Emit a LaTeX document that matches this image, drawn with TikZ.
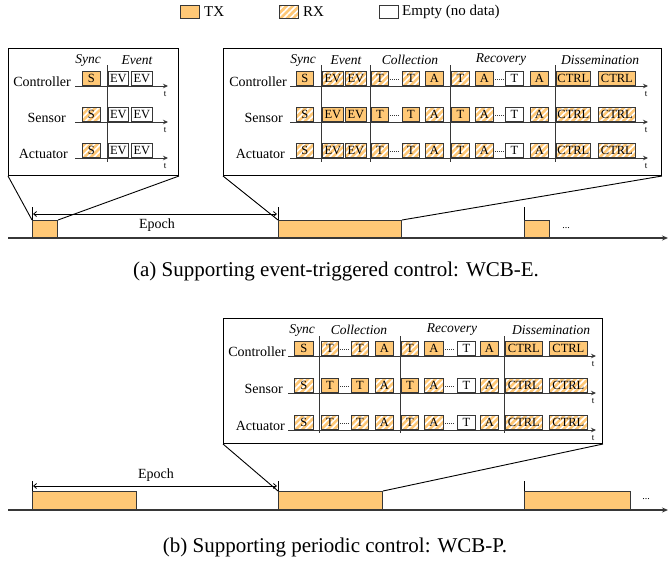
\documentclass[tikz,border=0pt]{standalone}
\usepackage{fontspec}
\setmainfont{Liberation Serif}
\usetikzlibrary{patterns.meta,arrows.meta}
\definecolor{txc}{RGB}{255,200,118}
\definecolor{bord}{RGB}{55,55,55}
\tikzset{
  slotbase/.style={draw=bord, line width=0.8pt, minimum height=14pt, inner sep=0pt,
    font=\fontsize{12.5}{13}\selectfont, anchor=south west},
  tx/.style={slotbase, fill=txc},
  rx/.style={slotbase, preaction={fill=txc},
    pattern={Lines[angle=45,distance=4.5pt,line width=1.6pt]}, pattern color=white},
  em/.style={slotbase, fill=white},
  panel/.style={draw=black, line width=1pt, anchor=north west, inner sep=0pt},
  rowlbl/.style={anchor=base east, inner sep=0pt, font=\fontsize{14}{14}\selectfont},
  phase/.style={inner sep=0pt, font=\fontsize{13.5}{14}\itshape},
  tlbl/.style={inner sep=0pt, font=\fontsize{9}{9}\selectfont},
  rowaxis/.style={draw=bord, line width=1pt, -{Stealth[length=5pt,width=4.5pt]}},
  divider/.style={draw=bord, line width=1pt},
  gapdots/.style={draw=bord, line width=0.7pt, dash pattern=on 0.8pt off 1.2pt},
  tlbox/.style={draw=bord, line width=1pt, fill=txc, anchor=south west, inner sep=0pt},
  tlaxis/.style={draw=bord, line width=1.2pt, -{Stealth[length=6pt,width=5pt]}},
  tickmark/.style={draw=black, line width=0.8pt},
  epocharr/.style={draw=black, line width=0.8pt, {Straight Barb[length=3pt,width=5pt]}-{Straight Barb[length=3pt,width=5pt]}},
  zoomline/.style={draw=black, line width=0.9pt},
  captxt/.style={inner sep=0pt, font=\fontsize{21}{22}\selectfont},
  lgtext/.style={anchor=west, inner sep=0pt, font=\fontsize{15}{15}\selectfont},
  lgbox/.style={draw=bord, line width=0.8pt, minimum width=19pt, minimum height=13pt, inner sep=0pt, anchor=north west},
}
\begin{document}
\begin{tikzpicture}[x=1pt,y=-1pt]
\useasboundingbox (0,0) rectangle (669,563);

% ---------------- legend
\node[lgbox, fill=txc] (lgtx) at (180,5) {};
\node[lgtext] (lgtxt) at (204,11.5) {TX};
\node[lgbox, preaction={fill=txc}, pattern={Lines[angle=45,distance=4.5pt,line width=1.6pt]}, pattern color=white] (lgrx) at (279,5) {};
\node[lgtext] (lgrxt) at (303,11.5) {RX};
\node[lgbox, fill=white] (lgem) at (379,5) {};
\node[lgtext] (lgemt) at (402,11.5) {Empty (no data)};

% ================= (a) small panel
\node[panel, minimum width=170pt, minimum height=127pt] (pa1) at (8,48) {};
\node[phase] (pa1sync) at (88,60) {Sync};
\node[phase] (pa1ev) at (137,60) {Event};
\foreach \y/\lbl/\lx/\ss [count=\r] in {86/Controller/71/tx, 122/Sensor/66/rx, 158/Actuator/68/rx}{
  \node[rowlbl] (pa1l\r) at (\lx,\y) {\lbl};
  \node[\ss, minimum width=18pt] (pa1s\r) at (82,\y) {S};
  \node[em, minimum width=20pt] (pa1e\r) at (108,\y) {EV};
  \node[em, minimum width=21pt] (pa1f\r) at (131,\y) {EV};
  \coordinate (pa1a\r) at (75,\y);
  \coordinate (pa1b\r) at (168,\y);
  \draw[rowaxis] (pa1a\r) -- (pa1b\r);
  \node[tlbl] (pa1t\r) at (165,\y+8) {t};
}
\coordinate (pa1d1) at (107,65); \coordinate (pa1d2) at (107,162);
\draw[divider] (pa1d1) -- (pa1d2);

% ================= (a) big panel
\node[panel, minimum width=438pt, minimum height=127pt] (pa2) at (223,48) {};
\node[phase] (pa2p1) at (303,60) {Sync};
\node[phase] (pa2p2) at (346,60) {Event};
\node[phase] (pa2p3) at (410,60) {Collection};
\node[phase] (pa2p4) at (501,60) {Recovery};
\node[phase] (pa2p5) at (600,60) {Dissemination};
\foreach \y/\lbl/\lx [count=\r] in {86/Controller/287, 122/Sensor/283, 158/Actuator/285}{
  \node[rowlbl] (pa2l\r) at (\lx,\y) {\lbl};
  \coordinate (pa2a\r) at (290,\y);
  \coordinate (pa2b\r) at (648,\y);
  \node[tlbl] (pa2t\r) at (646,\y+8) {t};
  \coordinate (pa2g\r) at (390,\y-7); \coordinate (pa2h\r) at (399,\y-7);
  \coordinate (pa2i\r) at (495,\y-7); \coordinate (pa2j\r) at (504,\y-7);
  \draw[gapdots] (pa2g\r) -- (pa2h\r);
  \draw[gapdots] (pa2i\r) -- (pa2j\r);
}
\foreach \a/\b/\t/\s [count=\i] in {296/313/S/tx, 322/343/EV/rx, 345/366/EV/rx, 371/388/T/rx, 402/419/T/rx, 425/443/A/tx, 451/469/T/rx, 475/493/A/tx, 505/523/T/em, 530/548/A/tx, 556/590/CTRL/tx, 598/635/CTRL/tx}
  \node[\s, minimum width={\b-\a}] (pa2c\i) at (\a,86) {\t};
\foreach \a/\b/\t/\s [count=\i] in {296/313/S/rx, 322/343/EV/tx, 345/366/EV/tx, 371/388/T/tx, 402/419/T/tx, 425/443/A/rx, 451/469/T/tx, 475/493/A/rx, 505/523/T/em, 530/548/A/rx, 556/590/CTRL/rx, 598/635/CTRL/rx}
  \node[\s, minimum width={\b-\a}] (pa2s\i) at (\a,122) {\t};
\foreach \a/\b/\t/\s [count=\i] in {296/313/S/rx, 322/343/EV/rx, 345/366/EV/rx, 371/388/T/rx, 402/419/T/rx, 425/443/A/rx, 451/469/T/rx, 475/493/A/rx, 505/523/T/em, 530/548/A/rx, 556/590/CTRL/rx, 598/635/CTRL/rx}
  \node[\s, minimum width={\b-\a}] (pa2u\i) at (\a,158) {\t};
\foreach \r in {1,2,3} \draw[rowaxis] (pa2a\r) -- (pa2b\r);
\foreach \x [count=\k] in {321,370,450,555}{
  \coordinate (pa2d\k) at (\x,65); \coordinate (pa2e\k) at (\x,162);
  \draw[divider] (pa2d\k) -- (pa2e\k);
}

% ---------------- timeline (a)
\coordinate (axa0) at (8,238); \coordinate (axa1) at (668,238);
\draw[tlaxis] (axa0) -- (axa1);
\node[tlbox, minimum width=25pt, minimum height=17pt] (ta1) at (32,238) {};
\node[tlbox, minimum width=123pt, minimum height=17pt] (ta2) at (278,238) {};
\node[tlbox, minimum width=25pt, minimum height=17pt] (ta3) at (524,238) {};
\node[inner sep=0pt, font=\fontsize{10}{10}\selectfont] (tadots) at (566,228) {...};
\foreach \n in {1,2,3}{ \draw[tickmark] (ta\n.north west) -- ++(0,-13); }
\coordinate (epa0) at (33,214); \coordinate (epa1) at (277,214);
\draw[epocharr] (epa0) -- (epa1);
\node[inner sep=0pt, font=\fontsize{14}{14}\selectfont] (epa) at (157,225) {Epoch};
\draw[zoomline] (pa1.south west) -- (ta1.north west);
\draw[zoomline] (pa1.south east) -- (ta1.north east);
\draw[zoomline] (pa2.south west) -- (ta2.north west);
\draw[zoomline] (pa2.south east) -- (ta2.north east);

\node[captxt] (capa) at (336,271) {(a) Supporting event-triggered control: WCB-E.};

% ================= (b) panel
\node[panel, minimum width=379pt, minimum height=125pt] (pb) at (223,318) {};
\node[phase] (pbp1) at (302,330) {Sync};
\node[phase] (pbp2) at (359,330) {Collection};
\node[phase] (pbp3) at (452,330) {Recovery};
\node[phase] (pbp4) at (551,330) {Dissemination};
\foreach \y/\lbl/\lx [count=\r] in {356/Controller/286, 393/Sensor/283, 430/Actuator/285}{
  \node[rowlbl] (pbl\r) at (\lx,\y) {\lbl};
  \coordinate (pba\r) at (288,\y);
  \coordinate (pbb\r) at (596,\y);
  \node[tlbl] (pbt\r) at (593,\y+8) {t};
  \coordinate (pbg\r) at (340,\y-7); \coordinate (pbh\r) at (349,\y-7);
  \coordinate (pbi\r) at (445,\y-7); \coordinate (pbj\r) at (454,\y-7);
  \draw[gapdots] (pbg\r) -- (pbh\r);
  \draw[gapdots] (pbi\r) -- (pbj\r);
}
\foreach \a/\b/\t/\s [count=\i] in {294/313/S/tx, 321/338/T/rx, 351/368/T/rx, 375/393/A/tx, 401/418/T/rx, 424/443/A/tx, 457/475/T/em, 480/498/A/tx, 505/542/CTRL/tx, 549/587/CTRL/tx}
  \node[\s, minimum width={\b-\a}] (pbc\i) at (\a,356) {\t};
\foreach \a/\b/\t/\s [count=\i] in {294/313/S/rx, 321/338/T/tx, 351/368/T/tx, 375/393/A/rx, 401/418/T/tx, 424/443/A/rx, 457/475/T/em, 480/498/A/rx, 505/542/CTRL/rx, 549/587/CTRL/rx}
  \node[\s, minimum width={\b-\a}] (pbs\i) at (\a,393) {\t};
\foreach \a/\b/\t/\s [count=\i] in {294/313/S/rx, 321/338/T/rx, 351/368/T/rx, 375/393/A/rx, 401/418/T/rx, 424/443/A/rx, 457/475/T/em, 480/498/A/rx, 505/542/CTRL/rx, 549/587/CTRL/rx}
  \node[\s, minimum width={\b-\a}] (pbu\i) at (\a,430) {\t};
\foreach \r in {1,2,3} \draw[rowaxis] (pba\r) -- (pbb\r);
\foreach \x [count=\k] in {319,400,504}{
  \coordinate (pbd\k) at (\x,336); \coordinate (pbe\k) at (\x,433);
  \draw[divider] (pbd\k) -- (pbe\k);
}

% ---------------- timeline (b)
\coordinate (axb0) at (8,510); \coordinate (axb1) at (668,510);
\draw[tlaxis] (axb0) -- (axb1);
\node[tlbox, minimum width=104pt, minimum height=18pt] (tb1) at (32,510) {};
\node[tlbox, minimum width=104pt, minimum height=18pt] (tb2) at (278,510) {};
\node[tlbox, minimum width=106pt, minimum height=18pt] (tb3) at (524,510) {};
\node[inner sep=0pt, font=\fontsize{10}{10}\selectfont] (tbdots) at (646,499) {...};
\foreach \n in {1,2,3}{ \draw[tickmark] (tb\n.north west) -- ++(0,-10); }
\coordinate (epb0) at (33,486); \coordinate (epb1) at (277,486);
\draw[epocharr] (epb0) -- (epb1);
\node[inner sep=0pt, font=\fontsize{14}{14}\selectfont] (epb) at (156,475) {Epoch};
\draw[zoomline] (pb.south west) -- (tb2.north west);
\draw[zoomline] (pb.south east) -- (tb2.north east);

\node[captxt] (capb) at (335,547) {(b) Supporting periodic control: WCB-P.};
\end{tikzpicture}
\end{document}
